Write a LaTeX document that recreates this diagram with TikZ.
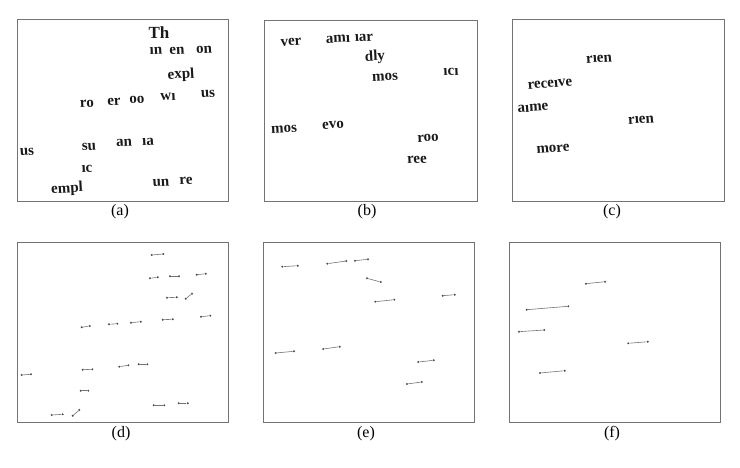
\documentclass[tikz,border=0pt]{standalone}
\usepackage{fontspec}
\setmainfont{Liberation Serif}
\begin{document}
\begin{tikzpicture}[x=1pt,y=-1pt,
  panel/.style={draw=black!55,line width=0.9pt},
  captxt/.style={font=\fontsize{16}{16}\selectfont,inner sep=0pt},
  frag/.style={font=\fontsize{15}{15}\selectfont\bfseries,inner sep=0pt,text=black!90},
  dot/.style={circle,fill=black!70,inner sep=0pt,minimum size=2.2pt},
  segline/.style={draw=black!55,line width=0.6pt}]
\useasboundingbox (0,0) rectangle (740,468);
\newcommand\seg[3]{\node[dot] (#1a) at (#2) {}; \node[dot] (#1b) at (#3) {}; \draw[segline] (#1a) -- (#1b);}
% panels
\draw[panel] (17,19) rectangle (228,201);
\draw[panel] (264,20) rectangle (477,201);
\draw[panel] (512,19) rectangle (724,201);
\draw[panel] (17,242) rectangle (228,422);
\draw[panel] (263,242) rectangle (474,422);
\draw[panel] (509,242) rectangle (720,422);
\node[captxt] (ca) at (120,212) {(a)};
\node[captxt] (cb) at (367,212) {(b)};
\node[captxt] (cc) at (612,212) {(c)};
\node[captxt] (cd) at (121,434) {(d)};
\node[captxt] (ce) at (366,434) {(e)};
\node[captxt] (cf) at (612,434) {(f)};
% (a)
\node[frag,font=\fontsize{17}{17}\selectfont\bfseries] (a1) at (159,33) {Th};
\node[frag,rotate=3] (a2) at (156,51) {ın};
\node[frag,rotate=3] (a3) at (177,51) {en};
\node[frag,rotate=3] (a4) at (204,50) {on};
\node[frag,rotate=3] (a5) at (181,75) {expl};
\node[frag,rotate=3] (a6) at (87,104) {ro};
\node[frag,rotate=3] (a7) at (114,102) {er};
\node[frag,rotate=3] (a8) at (137,100) {oo};
\node[frag,rotate=3] (a9) at (168,97) {wı};
\node[frag,rotate=3] (a10) at (208,94) {us};
\node[frag,rotate=3] (a11) at (27,152) {us};
\node[frag,rotate=3] (a12) at (89,147) {su};
\node[frag,rotate=3] (a13) at (124,143) {an};
\node[frag,rotate=3] (a14) at (148,142) {ıa};
\node[frag,rotate=3] (a15) at (87,169) {ıc};
\node[frag,rotate=3] (a16) at (67,189) {empl};
\node[frag,rotate=3] (a17) at (161,183) {un};
\node[frag,rotate=3] (a18) at (186,181) {re};
% (b)
\node[frag,rotate=3] (b1) at (291,42) {ver};
\node[frag,rotate=3] (b2) at (338,39) {amı};
\node[frag,rotate=3] (b3) at (364,38) {ıar};
\node[frag,rotate=3] (b4) at (375,57) {dly};
\node[frag,rotate=3] (b5) at (385,77) {mos};
\node[frag,rotate=3] (b6) at (451,72) {ıcı};
\node[frag,rotate=3] (b7) at (284,129) {mos};
\node[frag,rotate=3] (b8) at (333,125) {evo};
\node[frag,rotate=3] (b9) at (428,138) {roo};
\node[frag,rotate=3] (b10) at (417,160) {ree};
% (c)
\node[frag,rotate=4] (c1) at (599,59) {rıen};
\node[frag,rotate=5] (c2) at (550,84) {receıve};
\node[frag,rotate=4] (c3) at (533,108) {aıme};
\node[frag,rotate=4] (c4) at (641,120) {rıen};
\node[frag,rotate=4] (c5) at (553,149) {more};
% (d)
\seg{d1}{151.7,255}{163.3,254}
\seg{d2}{150,278.3}{157.7,277.3}
\seg{d3}{170,276.3}{179,276.3}
\seg{d4}{196.7,274.7}{205.7,273.7}
\seg{d5}{167,297.7}{176.7,297.3}
\seg{d6}{185.7,298.7}{192,293.7}
\seg{d7}{162.7,319.7}{172.7,319.3}
\seg{d8}{201,316.7}{210.3,315.7}
\seg{d9}{81.7,327.3}{89.7,326}
\seg{d10}{109,324.3}{117.3,323.7}
\seg{d11}{131,322.7}{140.7,321.7}
\seg{d12}{21.7,375}{31,374.3}
\seg{d13}{82.7,369.7}{92.3,369.3}
\seg{d14}{119.3,366.7}{128.3,365.3}
\seg{d15}{138.7,364.3}{147.3,364.3}
\seg{d16}{80.7,390.7}{88.3,390.7}
\seg{d17}{51.7,415}{62.7,414.3}
\seg{d18}{72.7,415.7}{79.3,410}
\seg{d19}{153.7,405.3}{164.3,405.3}
\seg{d20}{178.7,403.3}{187.7,403.3}
% (e)
\seg{e1}{282.3,266.7}{297.7,265.7}
\seg{e2}{327.3,263.7}{346.3,261}
\seg{e3}{355,260.7}{368,259.3}
\seg{e4}{367,278.3}{380.7,282}
\seg{e5}{375.3,301.7}{394.3,299.7}
\seg{e6}{442.7,295.7}{454.7,294.7}
\seg{e7}{275.7,353}{294,351.3}
\seg{e8}{323.3,349}{339.7,346.7}
\seg{e9}{418.3,362}{433.7,360.3}
\seg{e10}{407,384}{421.7,382}
% (f)
\seg{f1}{586,283.7}{605,281.7}
\seg{f2}{526.7,309.7}{568.3,306.3}
\seg{f3}{519,331.7}{544.3,330}
\seg{f4}{628.3,343.3}{647.7,341.7}
\seg{f5}{540,373}{564.7,370.7}
\end{tikzpicture}
\end{document}
